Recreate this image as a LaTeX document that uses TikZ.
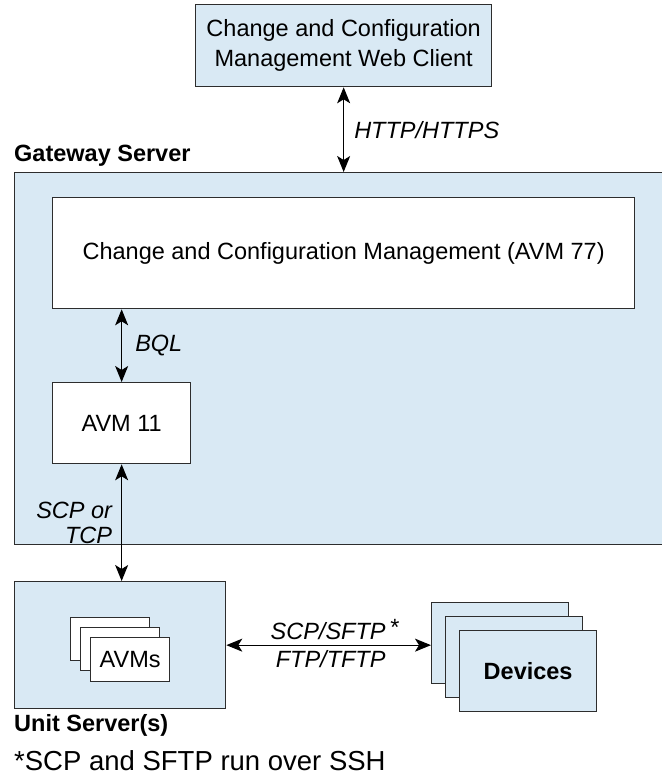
\documentclass[tikz,border=0pt]{standalone}
\usepackage{fontspec}
\setmainfont{Liberation Sans}
\usetikzlibrary{arrows.meta, positioning, calc}
\usepackage{xcolor}
\definecolor{serverBlue}{RGB}{217, 233, 244}
\definecolor{edgeGray}{RGB}{45, 45, 45}

\begin{document}
\begin{tikzpicture}[
    x=1pt, y=-1pt,
    box/.style={rectangle, draw=edgeGray, line width=1.3pt, align=center, inner sep=0pt, anchor=north west, font=\fontsize{23.5}{30}\selectfont},
    bluebox/.style={box, fill=serverBlue},
    whitebox/.style={box, fill=white},
    arrow/.style={{Stealth[length=16pt, width=13pt, inset=4pt]}-{Stealth[length=16pt, width=13pt, inset=4pt]}, line width=1.2pt, black},
    lbl/.style={font=\fontsize{23.5}{25}\selectfont\itshape, inner sep=0pt, align=center},
    title/.style={font=\fontsize{23.5}{27}\selectfont\bfseries, anchor=west, inner sep=0pt}
]
\useasboundingbox (0,0) rectangle (661,784);

% Web client on top
\node[bluebox, minimum width=296pt, minimum height=82pt] (client) at (195,4) {Change and Configuration\\Management Web Client};

% Gateway server with its two modules
\node[title] (gwlabel) at (14,156) {Gateway Server};
\node[bluebox, minimum width=654pt, minimum height=372pt] (gateway) at (14,172) {};
\node[whitebox, minimum width=582pt, minimum height=111pt] (ccm) at (52,197) {Change and Configuration Management (AVM 77)};
\node[whitebox, minimum width=138pt, minimum height=81pt] (avm) at (52,382) {AVM 11};

% Unit server with stacked AVMs
\node[bluebox, minimum width=211pt, minimum height=127pt] (unit) at (14,581) {};
\node[whitebox, minimum width=79pt, minimum height=43pt] (avmsA) at (70,617) {};
\node[whitebox, minimum width=79pt, minimum height=43pt] (avmsB) at (80,627) {};
\node[whitebox, minimum width=79pt, minimum height=44pt] (avmsC) at (90,637) {AVMs};
\node[title] (unitlabel) at (14,725) {Unit Server(s)};

% Stacked devices
\node[bluebox, minimum width=137pt, minimum height=81pt] (devA) at (431,602) {};
\node[bluebox, minimum width=137pt, minimum height=81pt] (devB) at (445,616) {};
\node[bluebox, minimum width=137pt, minimum height=81pt, font=\fontsize{23.5}{30}\selectfont\bfseries] (devC) at (459,630) {Devices};

% Footnote
\node[anchor=west, inner sep=0pt, font=\fontsize{27.5}{30}\selectfont] (note) at (14,761) {*SCP and SFTP run over SSH};

% Paths
\draw[arrow] (client.south) -- node[lbl, right=10pt] {HTTP/HTTPS} (client.south |- gateway.north);
\draw[arrow] (avm.north) -- node[lbl, right=13pt] {BQL} (avm.north |- ccm.south);
\draw[arrow] (avm.south) -- node[lbl, left=9pt, align=right] {SCP or\\TCP} (avm.south |- unit.north);
\draw[arrow] (unit.east) -- node[lbl, above=5pt, xshift=6pt] {SCP/SFTP\,\raisebox{4pt}{*}} node[lbl, below=5pt, xshift=2pt] {FTP/TFTP} (unit.east -| devA.west);

\end{tikzpicture}
\end{document}
